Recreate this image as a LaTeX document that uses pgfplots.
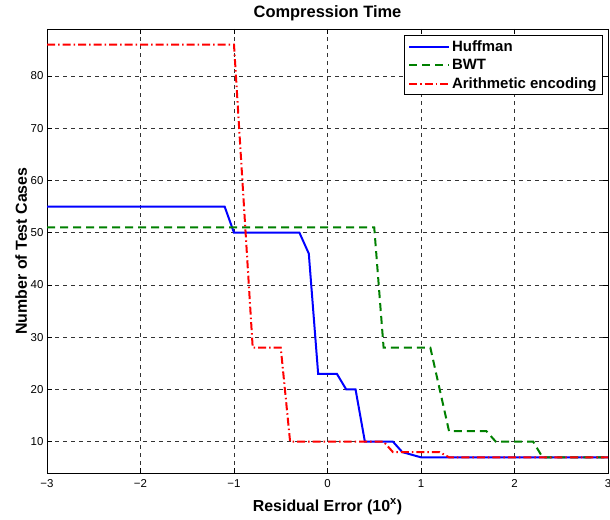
\documentclass[border=0pt]{standalone}
\usepackage{fontspec}
\setmainfont{Liberation Sans}
\usepackage{pgfplots}
\pgfplotsset{compat=1.18}
\definecolor{mgreen}{rgb}{0,0.5,0}
\begin{document}
\begin{tikzpicture}
\useasboundingbox (-47bp,-47bp) rectangle (563bp,473bp);
\begin{axis}[
  scale only axis,
  width=561bp, height=444bp,
  at={(0,0)}, anchor=south west,
  xmin=-3, xmax=3, ymin=4, ymax=89,
  xtick={-3,-2,-1,0,1,2,3},
  xticklabels={−3,−2,−1,0,1,2,3},
  ytick={10,20,30,40,50,60,70,80},
  yticklabels={10,20,30,40,50,60,70,80},
  tick align=inside,
  major tick length=5bp,
  tick style={black, line width=0.6bp},
  axis line style={black, line width=0.9bp},
  grid=major,
  major grid style={black!80, line width=0.6bp, dash pattern=on 4bp off 4bp},
  tick label style={font=\fontsize{11.5}{13}\selectfont},
  xticklabel style={yshift=-3bp},
  every axis title shift=0pt,
  title={\fontsize{16.5}{18}\selectfont\bfseries Compression Time},
  title style={at={(axis description cs:0.5,1)}, anchor=base, yshift=11bp, inner sep=0pt},
  xlabel={\fontsize{16}{18}\selectfont\bfseries Residual Error (10\textsuperscript{x})},
  xlabel style={at={(axis description cs:0.5,0)}, anchor=base, yshift=-38bp, inner sep=0pt},
  ylabel={\fontsize{16}{18}\selectfont\bfseries Number of Test Cases},
  ylabel style={at={(axis description cs:-0.0357,0.5)}, anchor=base, inner sep=0pt},
  legend style={at={(axis description cs:1,1)}, anchor=north east, xshift=-5bp, yshift=-6bp,
    draw=black, line width=0.9bp, fill=white,
    font=\fontsize{15}{18.5}\selectfont\bfseries,
    row sep=2.5bp, inner xsep=4bp, inner ysep=3bp},
  legend cell align=left,
  legend image code/.code={\draw[#1] (0bp,0bp) -- (40bp,0bp);},
]
\addplot[blue, line width=2bp] coordinates {
(-3,55) (-1.1,55) (-1,50) (-0.3,50) (-0.2,46) (-0.1,23) (0.1,23) (0.2,20) (0.3,20) (0.4,10) (0.7,10) (0.8,8) (1.0,7) (3,7)};
\addlegendentry{Huffman}
\addplot[mgreen, line width=2bp, dash pattern=on 8bp off 5bp] coordinates {
(-3,51) (0.5,51) (0.6,28) (1.1,28) (1.3,12) (1.7,12) (1.8,10) (2.2,10) (2.3,7) (3,7)};
\addlegendentry{BWT}
\addplot[red, line width=2bp, dash pattern=on 8bp off 3bp on 1.5bp off 3bp] coordinates {
(-3,86) (-1,86) (-0.8,28) (-0.5,28) (-0.4,10) (0.6,10) (0.7,8) (1.2,8) (1.3,7) (3,7)};
\addlegendentry{Arithmetic encoding}
\end{axis}
\end{tikzpicture}
\end{document}
